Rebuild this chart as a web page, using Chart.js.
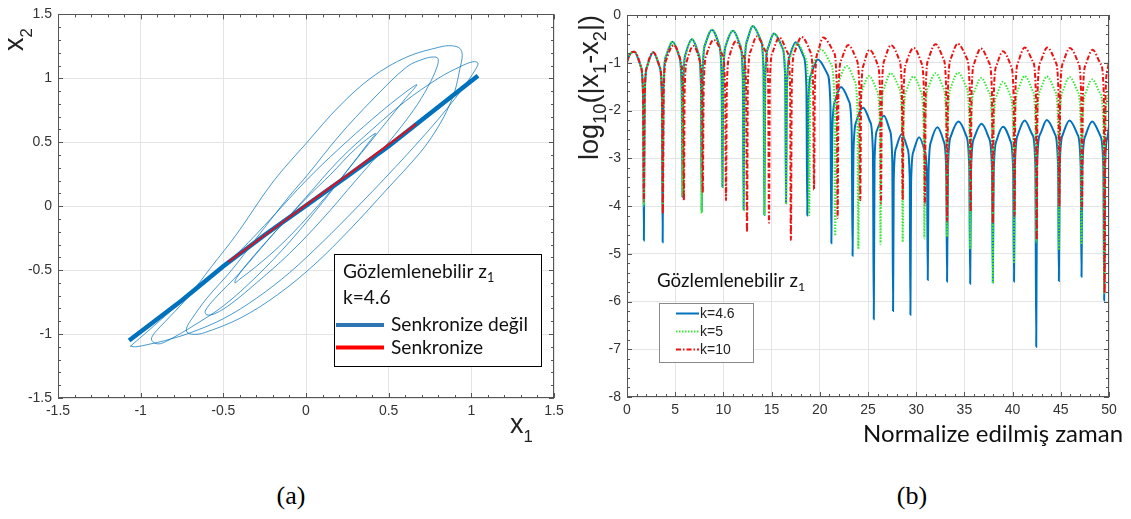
<!DOCTYPE html>
<html>
<head>
<meta charset="utf-8">
<script src="https://cdn.jsdelivr.net/npm/chart.js@4.4.1/dist/chart.umd.min.js"></script>
<style>
  html, body { margin: 0; padding: 0; background: #fff; }
  #wrap { position: relative; width: 1131px; height: 519px; overflow: hidden; background: #fff; }
  #cA { position: absolute; left: 0; top: 0; }
  #cB { position: absolute; left: 570px; top: 0; }
  .cap { position: absolute; top: 481px; width: 80px; text-align: center;
         font-family: "Liberation Serif", "Times New Roman", serif; font-size: 26px; color: #000; }
</style>
</head>
<body>
<div id="wrap">
  <canvas id="cA" width="580" height="445"></canvas>
  <canvas id="cB" width="561" height="470"></canvas>
  <div class="cap" style="left:251px">(a)</div>
  <div class="cap" style="left:872px">(b)</div>
</div>
<script>
// ---------- Panel (a): x1 – x2 phase portrait ----------
// unsynchronised trajectory (thin line)
const freeOrbit = [
  [-1.065,-1.098],[-0.95,-0.97],[-0.8,-0.8],[-0.6,-0.58],[-0.4,-0.35],[-0.2,-0.08],[0,0.2],[0.2,0.45],[0.4,0.68],[0.55,0.84],[0.67,0.95],
  [0.6,0.84],[0.45,0.6],[0.3,0.36],[0.15,0.12],[0,-0.1],[-0.15,-0.3],[-0.3,-0.47],[-0.4,-0.57],[-0.43,-0.6],[-0.42,-0.56],
  [-0.35,-0.44],[-0.2,-0.22],[0,0.06],[0.15,0.25],[0.3,0.45],[0.42,0.57],
  [0.38,0.5],[0.25,0.28],[0.1,0.03],[-0.1,-0.28],[-0.3,-0.55],[-0.5,-0.78],[-0.7,-0.95],[-0.82,-1.04],[-0.88,-1.075],
  [-0.915,-1.07],[-0.935,-1.04],[-0.915,-0.99],[-0.85,-0.9],[-0.72,-0.72],[-0.57,-0.47],[-0.42,-0.22],[-0.2,0.19],[0,0.49],[0.2,0.78],[0.4,1.01],[0.61,1.167],[0.81,1.245],[0.88,1.255],[0.93,1.235],[0.945,1.18],
  [0.93,1.07],[0.9,0.9],[0.85,0.74],[0.78,0.58],[0.689,0.417],[0.49,0.133],[0.269,-0.177],[0.048,-0.46],[-0.173,-0.693],[-0.394,-0.873],[-0.616,-0.99],[-0.682,-1.002],[-0.72,-0.985],[-0.72,-0.945],
  [-0.69,-0.88],[-0.6,-0.72],[-0.45,-0.5],[-0.3,-0.25],[-0.1,0.08],[0.006,0.24],[0.2,0.55],[0.4,0.83],[0.61,1.09],[0.72,1.155],[0.78,1.167],[0.8,1.15],
  [0.79,1.08],[0.74,0.94],[0.65,0.75],[0.5,0.5],[0.3,0.2],[0.1,-0.1],[-0.1,-0.37],[-0.3,-0.6],[-0.45,-0.76],[-0.55,-0.84],[-0.6,-0.85],[-0.61,-0.82],
  [-0.55,-0.72],[-0.4,-0.52],[-0.2,-0.22],[0,0.07],[0.2,0.36],[0.4,0.6],[0.6,0.82],[0.8,1.0],[0.93,1.09],[1.01,1.13],[1.04,1.12],[1.03,1.08],
  [0.98,0.98],[0.9,0.84],[0.8,0.68],[0.65,0.46],[0.5,0.25],[0.3,-0.02],[0.1,-0.28],[-0.1,-0.52],[-0.3,-0.72],[-0.5,-0.88],[-0.7,-0.99],[-0.85,-1.05],[-0.95,-1.08],[-1.03,-1.1],[-1.06,-1.095]
];
// diagonal x1 ≈ x2 (thick line)
const diagOrbit = [[-1.07,-1.05],[-0.75,-0.735],[-0.5,-0.47],[-0.25,-0.225],[0,0.005],[0.25,0.235],[0.5,0.47],[0.75,0.725],[1.04,1.02]];
// synchronised trajectory
const syncOrbit = [[-0.47,-0.435],[-0.2,-0.18],[0,0.01],[0.3,0.29],[0.667,0.644]];
const legendLabelsA = ['Senkronize değil', 'Senkronize'];
const noteA = ['Gözlemlenebilir z', '1', 'k=4.6'];

// ---------- Panel (b): log10(|x1 - x2|) over normalised time ----------
const errK46 = [
  [0,-0.98],[0.3,-0.82],[0.75,-0.77],[1.42,-1.07],[1.67,-1.72],[1.75,-4.72],
  [1.83,-1.73],[2.08,-1.08],[2.72,-0.78],[3.37,-1.08],[3.62,-1.73],[3.7,-4.76],
  [3.78,-1.51],[4.05,-0.86],[4.72,-0.56],[5.4,-0.86],[5.67,-1.51],[5.75,-3.81],
  [5.83,-1.46],[6.09,-0.81],[6.75,-0.51],[7.41,-0.81],[7.67,-1.46],[7.75,-4.1],
  [7.84,-1.26],[8.12,-0.61],[8.8,-0.31],[9.53,-0.61],[9.81,-1.26],[9.9,-3.6],
  [9.99,-1.28],[10.27,-0.63],[11.0,-0.33],[11.73,-0.63],[12.01,-1.28],[12.1,-4.08],
  [12.19,-1.18],[12.47,-0.53],[13.05,-0.23],[13.88,-0.53],[14.16,-1.18],[14.25,-4.19],
  [14.34,-1.34],[14.63,-0.69],[15.25,-0.39],[16.12,-0.69],[16.41,-1.34],[16.5,-3.94],
  [16.59,-1.52],[16.87,-0.87],[17.5,-0.57],[18.33,-0.87],[18.61,-1.52],[18.7,-4.2],
  [18.8,-1.88],[19.12,-1.23],[19.8,-0.93],[20.78,-1.23],[21.1,-1.88],[21.2,-4.78],
  [21.29,-2.46],[21.57,-1.81],[22.2,-1.51],[23.03,-1.81],[23.31,-2.46],[23.4,-5.04],
  [23.49,-2.89],[23.77,-2.24],[24.5,-1.94],[25.23,-2.24],[25.51,-2.89],[25.6,-6.37],
  [25.68,-3.06],[25.94,-2.41],[26.65,-2.11],[27.26,-2.41],[27.52,-3.06],[27.6,-6.2],
  [27.67,-3.44],[27.91,-2.79],[28.5,-2.49],[29.09,-2.79],[29.33,-3.44],[29.4,-6.28],
  [29.47,-3.51],[29.71,-2.86],[30.3,-2.56],[30.89,-2.86],[31.13,-3.51],[31.2,-5.55],
  [31.28,-3.3],[31.54,-2.65],[32.2,-2.35],[32.86,-2.65],[33.12,-3.3],[33.2,-5.58],
  [33.3,-3.18],[33.61,-2.53],[34.4,-2.23],[35.19,-2.53],[35.5,-3.18],[35.6,-5.63],
  [35.69,-3.23],[36.0,-2.58],[36.78,-2.28],[37.55,-2.58],[37.86,-3.23],[37.95,-5.6],
  [38.04,-3.29],[38.32,-2.64],[39.0,-2.34],[39.78,-2.64],[40.06,-3.29],[40.15,-5.58],
  [40.24,-3.16],[40.54,-2.51],[41.25,-2.21],[42.06,-2.51],[42.36,-3.16],[42.45,-6.95],
  [42.54,-3.15],[42.85,-2.5],[43.55,-2.2],[44.4,-2.5],[44.71,-3.15],[44.8,-5.57],
  [44.89,-3.16],[45.2,-2.51],[45.9,-2.21],[46.75,-2.51],[47.06,-3.16],[47.15,-5.48],
  [47.24,-3.18],[47.55,-2.53],[48.25,-2.23],[49.1,-2.53],[49.41,-3.18],[49.5,-5.98],
  [49.59,-3.2],[49.85,-2.55],[50,-2.32]
];
const errK5 = [
  [0,-0.98],[0.3,-0.82],[0.75,-0.77],[1.42,-1.07],[1.67,-1.72],[1.75,-4.0],
  [1.83,-1.73],[2.08,-1.08],[2.72,-0.78],[3.37,-1.08],[3.62,-1.73],[3.7,-4.1],
  [3.78,-1.51],[4.05,-0.86],[4.72,-0.56],[5.4,-0.86],[5.67,-1.51],[5.75,-3.8],
  [5.83,-1.46],[6.09,-0.81],[6.75,-0.51],[7.41,-0.81],[7.67,-1.46],[7.75,-4.15],
  [7.84,-1.26],[8.12,-0.61],[8.8,-0.31],[9.53,-0.61],[9.81,-1.26],[9.9,-3.62],
  [9.99,-1.28],[10.27,-0.63],[11.0,-0.33],[11.73,-0.63],[12.01,-1.28],[12.1,-4.08],
  [12.19,-1.18],[12.47,-0.53],[13.05,-0.23],[13.88,-0.53],[14.16,-1.18],[14.25,-4.19],
  [14.34,-1.34],[14.63,-0.69],[15.25,-0.39],[16.12,-0.69],[16.41,-1.34],[16.5,-3.96],
  [16.6,-1.54],[16.91,-0.89],[17.6,-0.59],[18.49,-0.89],[18.8,-1.54],[18.9,-4.19],
  [19.01,-1.67],[19.36,-1.02],[20.1,-0.72],[21.14,-1.02],[21.49,-1.67],[21.6,-4.62],
  [21.7,-2.02],[22.01,-1.37],[22.8,-1.07],[23.59,-1.37],[23.9,-2.02],[24.0,-4.9],
  [24.09,-2.23],[24.39,-1.58],[25.1,-1.28],[25.91,-1.58],[26.21,-2.23],[26.3,-4.8],
  [26.39,-2.17],[26.69,-1.52],[27.35,-1.22],[28.21,-1.52],[28.51,-2.17],[28.6,-4.75],
  [28.69,-2.24],[28.98,-1.59],[29.7,-1.29],[30.47,-1.59],[30.76,-2.24],[30.85,-4.68],
  [30.94,-2.17],[31.25,-1.52],[32.0,-1.22],[32.8,-1.52],[33.11,-2.17],[33.2,-4.64],
  [33.3,-2.16],[33.61,-1.51],[34.35,-1.21],[35.19,-1.51],[35.5,-2.16],[35.6,-4.9],
  [35.69,-2.27],[36.0,-1.62],[36.75,-1.32],[37.55,-1.62],[37.86,-2.27],[37.95,-5.62],
  [38.04,-2.35],[38.32,-1.7],[39.0,-1.4],[39.78,-1.7],[40.06,-2.35],[40.15,-5.2],
  [40.24,-2.23],[40.54,-1.58],[41.25,-1.28],[42.06,-1.58],[42.36,-2.23],[42.45,-4.76],
  [42.54,-2.24],[42.85,-1.59],[43.55,-1.29],[44.4,-1.59],[44.71,-2.24],[44.8,-4.92],
  [44.89,-2.25],[45.2,-1.6],[45.9,-1.3],[46.75,-1.6],[47.06,-2.25],[47.15,-4.8],
  [47.24,-2.3],[47.55,-1.65],[48.25,-1.35],[49.1,-1.65],[49.41,-2.3],[49.5,-5.85],
  [49.59,-2.5],[49.85,-1.75],[50,-1.52]
];
const errK10 = [
  [0,-0.98],[0.3,-0.82],[0.75,-0.77],[1.42,-1.07],[1.67,-1.72],[1.75,-3.9],
  [1.83,-1.73],[2.08,-1.08],[2.72,-0.78],[3.38,-1.08],[3.64,-1.73],[3.72,-4.16],
  [3.81,-1.58],[4.09,-0.93],[4.85,-0.63],[5.53,-0.93],[5.81,-1.58],[5.9,-3.88],
  [5.98,-1.6],[6.23,-0.95],[6.9,-0.65],[7.53,-0.95],[7.78,-1.6],[7.86,-3.72],
  [7.96,-1.47],[8.27,-0.82],[9.0,-0.52],[9.86,-0.82],[10.17,-1.47],[10.27,-3.88],
  [10.36,-1.5],[10.64,-0.85],[11.3,-0.55],[12.08,-0.85],[12.36,-1.5],[12.45,-4.55],
  [12.54,-1.4],[12.84,-0.75],[13.45,-0.45],[14.34,-0.75],[14.64,-1.4],[14.73,-4.35],
  [14.82,-1.42],[15.12,-0.77],[15.8,-0.47],[16.61,-0.77],[16.91,-1.42],[17.0,-4.71],
  [17.1,-1.41],[17.41,-0.76],[18.1,-0.46],[18.99,-0.76],[19.3,-1.41],[19.4,-3.66],
  [19.5,-1.42],[19.82,-0.77],[20.35,-0.47],[21.43,-0.77],[21.75,-1.42],[21.85,-4.25],
  [21.94,-1.58],[22.25,-0.93],[22.95,-0.63],[23.8,-0.93],[24.11,-1.58],[24.2,-3.88],
  [24.29,-1.68],[24.57,-1.03],[25.15,-0.73],[25.98,-1.03],[26.26,-1.68],[26.35,-3.94],
  [26.44,-1.58],[26.73,-0.93],[27.4,-0.63],[28.22,-0.93],[28.51,-1.58],[28.6,-3.87],
  [28.69,-1.64],[28.99,-0.99],[29.75,-0.69],[30.51,-0.99],[30.81,-1.64],[30.9,-3.97],
  [30.99,-1.56],[31.29,-0.91],[32.0,-0.61],[32.81,-0.91],[33.11,-1.56],[33.2,-4.33],
  [33.3,-1.55],[33.62,-0.9],[34.3,-0.6],[35.23,-0.9],[35.55,-1.55],[35.65,-4.12],
  [35.74,-1.65],[36.04,-1.0],[36.7,-0.7],[37.56,-1.0],[37.86,-1.65],[37.95,-4.36],
  [38.04,-1.71],[38.33,-1.06],[39.0,-0.76],[39.82,-1.06],[40.11,-1.71],[40.2,-4.21],
  [40.29,-1.63],[40.59,-0.98],[41.25,-0.68],[42.11,-0.98],[42.41,-1.63],[42.5,-4.71],
  [42.59,-1.63],[42.9,-0.98],[43.6,-0.68],[44.45,-0.98],[44.76,-1.63],[44.85,-4.01],
  [44.94,-1.64],[45.25,-0.99],[45.95,-0.69],[46.8,-0.99],[47.11,-1.64],[47.2,-4.07],
  [47.29,-1.68],[47.6,-1.03],[48.3,-0.73],[49.15,-1.03],[49.46,-1.68],[49.55,-5.83],
  [49.63,-1.8],[49.85,-1.15],[50,-0.95]
];
const seriesLabelsB = ['k=4.6', 'k=5', 'k=10'];
const noteB = ['Gözlemlenebilir z', '1'];
const xTitleB = 'Normalize edilmiş zaman';

// ---------- shared drawing helpers ----------
const SANS = "'Liberation Sans', Arial, sans-serif";
const CAL = "Lato, 'Open Sans', sans-serif";

function richWidth(ctx, parts, family, size, subScale) {
  let w = 0;
  for (const p of parts) {
    ctx.font = (p.sub ? size * subScale : size) + 'px ' + family;
    w += ctx.measureText(p.t).width;
  }
  return w;
}
function fitSize(ctx, parts, family, target, subScale) {
  return 40 * target / richWidth(ctx, parts, family, 40, subScale);
}
// text with subscripts; when rotated the run goes upward from (x, y)
function drawRich(ctx, parts, x, y, o) {
  ctx.save();
  ctx.translate(x, y);
  if (o.rotate) ctx.rotate(-Math.PI / 2);
  ctx.fillStyle = o.color || '#000';
  ctx.textAlign = 'left';
  ctx.textBaseline = 'alphabetic';
  let cx = 0;
  for (const p of parts) {
    const s = p.sub ? o.size * o.subScale : o.size;
    ctx.font = s + 'px ' + o.family;
    ctx.fillText(p.t, cx, p.sub ? o.size * o.subDrop : 0);
    cx += ctx.measureText(p.t).width;
  }
  ctx.restore();
}

// box round the axes with inward major/minor ticks on all four sides
const framePlugin = {
  id: 'frame',
  afterDatasetsDraw(chart, _a, o) {
    const { ctx, chartArea: a } = chart;
    const sx = chart.scales.x, sy = chart.scales.y;
    ctx.save();
    ctx.strokeStyle = o.color;
    ctx.lineWidth = 1;
    ctx.beginPath();
    const isMajor = (v, step) => Math.abs(v / step - Math.round(v / step)) < 1e-6;
    const nx = Math.round((sx.max - sx.min) / o.xMinor);
    for (let i = 0; i <= nx; i++) {
      const v = sx.min + i * o.xMinor;
      const len = isMajor(v, o.xMajor) ? o.majorLen : o.minorLen;
      const p = Math.round(sx.getPixelForValue(v)) + 0.5;
      ctx.moveTo(p, a.bottom); ctx.lineTo(p, a.bottom - len);
      ctx.moveTo(p, a.top); ctx.lineTo(p, a.top + len);
    }
    const ny = Math.round((sy.max - sy.min) / o.yMinor);
    for (let i = 0; i <= ny; i++) {
      const v = sy.min + i * o.yMinor;
      const len = isMajor(v, o.yMajor) ? o.majorLen : o.minorLen;
      const p = Math.round(sy.getPixelForValue(v)) + 0.5;
      ctx.moveTo(a.left, p); ctx.lineTo(a.left + len, p);
      ctx.moveTo(a.right, p); ctx.lineTo(a.right - len, p);
    }
    ctx.stroke();
    ctx.strokeRect(Math.round(a.left) + 0.5, Math.round(a.top) + 0.5,
                   Math.round(a.right - a.left) - 1, Math.round(a.bottom - a.top) - 1);
    ctx.restore();
  }
};

function linearAxis(min, max, step, size, pad, isX) {
  return {
    type: 'linear', min, max,
    afterFit: s => { if (isX) s.height = size; else s.width = size; },
    ticks: { stepSize: step, padding: pad, autoSkip: false, maxRotation: 0,
             color: '#333', font: { family: SANS, size: 14 },
             callback: v => String(Math.round(v * 10) / 10) },
    grid: { color: '#e4e4e4', drawTicks: false, lineWidth: 1 },
    border: { display: false }
  };
}

// ---------- panel (a) ----------
const notesA = {
  id: 'notesA',
  afterDraw(chart) {
    const ctx = chart.ctx;
    // axis titles
    drawRich(ctx, [{ t: 'x' }, { t: '2', sub: true }], 23, 51,
             { rotate: true, family: SANS, size: 27, subScale: 0.62, subDrop: 0.33, color: '#222' });
    drawRich(ctx, [{ t: 'x' }, { t: '1', sub: true }], 510, 433,
             { family: SANS, size: 27, subScale: 0.62, subDrop: 0.33, color: '#222' });
    // legend box
    ctx.save();
    ctx.fillStyle = '#fff';
    ctx.fillRect(334, 254, 207, 112);
    ctx.strokeStyle = '#000';
    ctx.lineWidth = 1;
    ctx.strokeRect(334.5, 254.5, 207, 112);
    const fs = fitSize(ctx, [{ t: legendLabelsA[0] }], CAL, 137, 0.65);
    const style = { family: CAL, size: fs, subScale: 0.66, subDrop: 0.2, color: '#111' };
    drawRich(ctx, [{ t: noteA[0] }, { t: noteA[1], sub: true }], 343, 278, style);
    drawRich(ctx, [{ t: noteA[2] }], 343, 304, style);
    const ds = chart.data.datasets;
    const rows = [[ds[1], '#2e75b6', 325], [ds[0], '#ff0000', 347.5]];
    rows.forEach(([d, col, y]) => {
      ctx.strokeStyle = col;
      ctx.lineWidth = 4;
      ctx.beginPath(); ctx.moveTo(336, y); ctx.lineTo(384, y); ctx.stroke();
      drawRich(ctx, [{ t: d.label }], 391, y + 6, style);
    });
    ctx.restore();
  }
};

new Chart(document.getElementById('cA'), {
  type: 'scatter',
  data: {
    datasets: [
      { label: legendLabelsA[1], data: syncOrbit, showLine: true, pointRadius: 0,
        borderColor: '#d8121f', borderWidth: 2, order: 0 },
      { label: legendLabelsA[0], data: diagOrbit, showLine: true, pointRadius: 0,
        borderColor: '#0072bd', borderWidth: 4.5, order: 1 },
      { label: 'yörünge', data: freeOrbit, showLine: true, pointRadius: 0,
        borderColor: 'rgba(0,114,189,0.72)', borderWidth: 1, tension: 0.35, order: 2 }
    ]
  },
  options: {
    responsive: false, animation: false, devicePixelRatio: 1,
    layout: { padding: { left: 0, right: 26, top: 11, bottom: 17 } },
    scales: {
      x: linearAxis(-1.5, 1.5, 0.5, 30, 5, true),
      y: linearAxis(-1.5, 1.5, 0.5, 58, 6, false)
    },
    plugins: {
      legend: { display: false }, tooltip: { enabled: false },
      frame: { color: '#555', xMinor: 0.1, xMajor: 0.5, yMinor: 0.1, yMajor: 0.5, majorLen: 5, minorLen: 3 }
    }
  },
  plugins: [framePlugin, notesA]
});

// ---------- panel (b) ----------
const notesB = {
  id: 'notesB',
  afterDraw(chart) {
    const ctx = chart.ctx;
    const yParts = [{ t: 'log' }, { t: '10', sub: true }, { t: '(|x' }, { t: '1', sub: true },
                    { t: '-x' }, { t: '2', sub: true }, { t: '|)' }];
    const ys = fitSize(ctx, yParts, SANS, 145, 0.68);
    drawRich(ctx, yParts, 28, 160, { rotate: true, family: SANS, size: ys, subScale: 0.68, subDrop: 0.3, color: '#222' });
    const xs = fitSize(ctx, [{ t: xTitleB }], CAL, 260, 0.66);
    ctx.save();
    ctx.font = xs + 'px ' + CAL;
    ctx.fillStyle = '#111';
    ctx.textAlign = 'right';
    ctx.textBaseline = 'alphabetic';
    ctx.fillText(xTitleB, 553, 442);
    ctx.restore();
    // annotation
    const ns = fitSize(ctx, [{ t: noteB[0] }], CAL, 141, 0.66);
    drawRich(ctx, [{ t: noteB[0] }, { t: noteB[1], sub: true }], 87, 287,
             { family: CAL, size: ns, subScale: 0.66, subDrop: 0.2, color: '#111' });
    // legend
    ctx.save();
    ctx.fillStyle = '#fff';
    ctx.fillRect(89, 303, 94, 59);
    ctx.strokeStyle = '#8a8a8a';
    ctx.lineWidth = 1;
    ctx.strokeRect(89.5, 303.5, 94, 59);
    const ds = chart.data.datasets;
    const rows = [ds[2], ds[1], ds[0]];
    rows.forEach((d, i) => {
      const y = 313.5 + i * 18;
      ctx.strokeStyle = d.borderColor;
      ctx.lineWidth = 2;
      ctx.setLineDash(d.borderDash || []);
      ctx.beginPath(); ctx.moveTo(106, y); ctx.lineTo(129, y); ctx.stroke();
      ctx.setLineDash([]);
      ctx.fillStyle = '#222';
      ctx.font = '14px ' + SANS;
      ctx.textBaseline = 'middle';
      ctx.fillText(d.label, 130, y + 1);
    });
    ctx.restore();
  }
};

new Chart(document.getElementById('cB'), {
  type: 'scatter',
  data: {
    datasets: [
      { label: seriesLabelsB[2], data: errK10, showLine: true, pointRadius: 0,
        borderColor: '#ee1111', borderWidth: 2, borderDash: [5, 2, 1.5, 2],
        cubicInterpolationMode: 'monotone', order: 0 },
      { label: seriesLabelsB[1], data: errK5, showLine: true, pointRadius: 0,
        borderColor: '#3ae83a', borderWidth: 2, borderDash: [1.5, 1.5],
        cubicInterpolationMode: 'monotone', order: 1 },
      { label: seriesLabelsB[0], data: errK46, showLine: true, pointRadius: 0,
        borderColor: '#0072bd', borderWidth: 2,
        cubicInterpolationMode: 'monotone', order: 2 }
    ]
  },
  options: {
    responsive: false, animation: false, devicePixelRatio: 1,
    layout: { padding: { left: 0, right: 22, top: 15, bottom: 43 } },
    scales: {
      x: linearAxis(0, 50, 5, 30, 5, true),
      y: linearAxis(-8, 0, 1, 57, 6, false)
    },
    plugins: {
      legend: { display: false }, tooltip: { enabled: false },
      frame: { color: '#555', xMinor: 1, xMajor: 5, yMinor: 0.2, yMajor: 1, majorLen: 5, minorLen: 3 }
    }
  },
  plugins: [framePlugin, notesB]
});
</script>
</body>
</html>
